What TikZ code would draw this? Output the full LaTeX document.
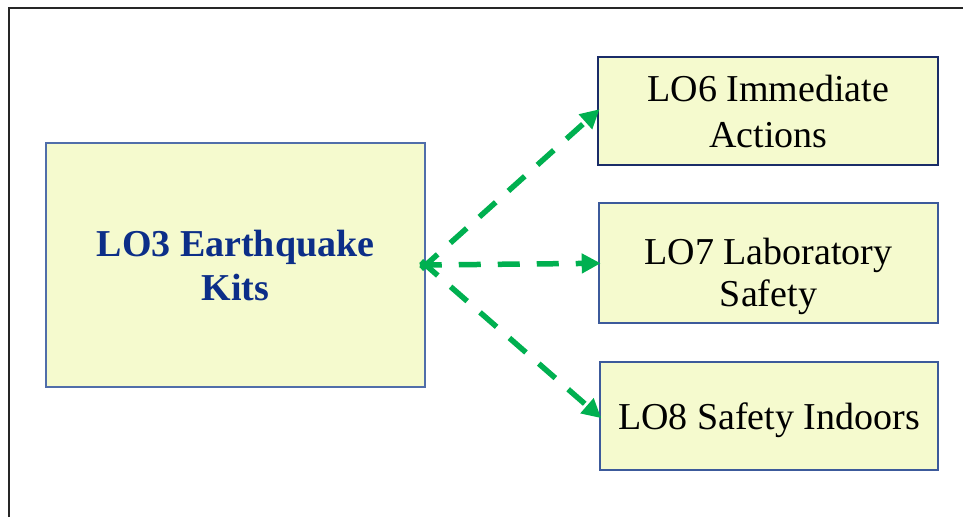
\documentclass[tikz,border=0pt]{standalone}
\usepackage{fontspec}
\setmainfont{Liberation Serif}
\usetikzlibrary{arrows.meta}

\definecolor{boxfill}{RGB}{245,250,206}
\definecolor{navyedge}{RGB}{26,44,104}
\definecolor{blueedge}{RGB}{60,90,155}
\definecolor{softedge}{RGB}{80,110,170}
\definecolor{kittext}{RGB}{12,46,136}
\definecolor{linkgreen}{RGB}{0,176,80}

% pushes a text block down inside its box
\newcommand{\lowerby}[1]{\rule{0pt}{#1}}

\tikzset{
  lobox/.style={draw=blueedge, line width=2pt, fill=boxfill, align=center,
    inner sep=0pt, font=\fontsize{38}{46}\selectfont},
  link/.style={draw=linkgreen, line width=5.5pt, dash pattern=on 22pt off 17pt,
    -{Triangle[length=19pt,width=19pt]}, shorten <=-6pt, shorten >=-3pt},
  frameline/.style={draw=black!85, line width=2pt}
}

\begin{document}
\begin{tikzpicture}[x=1pt,y=-1pt]
  \useasboundingbox (0,0) rectangle (963,517);

  % outer frame
  \draw[frameline] (9,517) -- (9,8) -- (963,8);

  % source topic
  \node[lobox, draw=softedge, line width=1.5pt, minimum width=379pt, minimum height=244pt,
        text=kittext, font=\fontsize{38}{44}\selectfont\bfseries]
    (lo3) at (235.5,265) {LO3 Earthquake\\Kits};

  % linked topics
  \node[lobox, draw=navyedge, minimum width=340pt, minimum height=107.5pt]
    (lo6) at (768.3,111.2) {LO6 Immediate\\Actions};
  \node[lobox, minimum width=339.6pt, minimum height=120pt,
        font=\fontsize{38}{42}\selectfont]
    (lo7) at (768.5,263.3) {\lowerby{52pt}LO7 Laboratory\\Safety};
  \node[lobox, minimum width=338pt, minimum height=107.5pt]
    (lo8) at (769,416.2) {\lowerby{34pt}LO8 Safety Indoors};

  % dashed links
  \draw[link] (lo3.east) -- (lo6.west);
  \draw[link] (lo3.east) -- (lo7.west);
  \draw[link] (lo3.east) -- (lo8.west);
\end{tikzpicture}
\end{document}
